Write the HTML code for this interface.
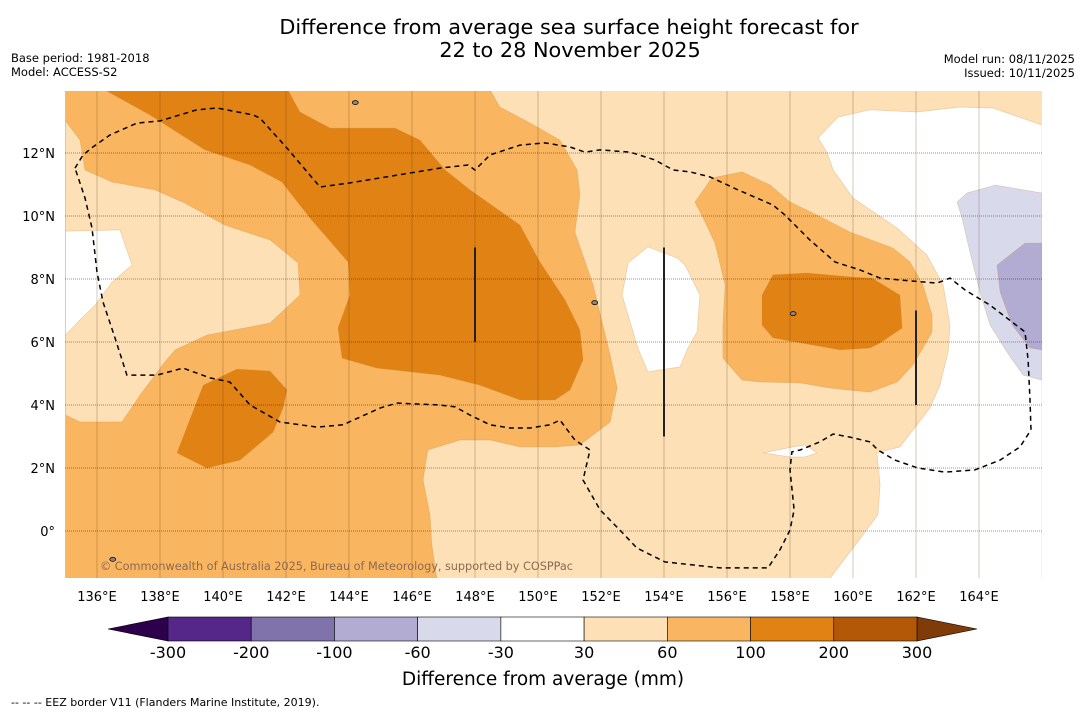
<!DOCTYPE html>
<html><head><meta charset="utf-8"><style>
html,body{margin:0;padding:0;background:#fff;}
body{width:1085px;height:713px;overflow:hidden;font-family:"DejaVu Sans","Liberation Sans",sans-serif;}
svg text{font-family:"DejaVu Sans","Liberation Sans",sans-serif;}
</style></head><body>
<svg id="c" width="1085" height="713" viewBox="0 0 1085 713">
<text x="569" y="34" font-size="20.8" text-anchor="middle" fill="#000">Difference from average sea surface height forecast for</text>
<text x="570" y="57" font-size="20.8" text-anchor="middle" fill="#000">22 to 28 November 2025</text>
<text x="11" y="62" font-size="11.5">Base period: 1981-2018</text>
<text x="11" y="76" font-size="11.5">Model: ACCESS-S2</text>
<text x="1075" y="63" font-size="11.5" text-anchor="end">Model run: 08/11/2025</text>
<text x="1075" y="77" font-size="11.5" text-anchor="end">Issued: 10/11/2025</text>
<defs><clipPath id="mapclip"><rect x="65" y="91" width="977" height="487"/></clipPath></defs>
<g id="map" clip-path="url(#mapclip)"></g>
<g id="axes"></g>
<g id="cbar"></g>
<text x="543" y="685" font-size="18.5" text-anchor="middle">Difference from average (mm)</text>
<text x="11" y="706" font-size="11">--  --  -- EEZ border V11 (Flanders Marine Institute, 2019).</text>
</svg>
<script>
const lonTicks=[136,138,140,142,144,146,148,150,152,154,156,158,160,162,164];
const latTicks=[0,2,4,6,8,10,12];
const cbarLevels=["-300","-200","-100","-60","-30","30","60","100","200","300"];
const cbarColors=["#542788","#8073ac","#b2abd2","#d8daeb","#ffffff","#fee0b6","#fab560","#e08214","#b35806"];
const orangeMain=[[135,14],[148.48,14],[148.79,13.46],[149.75,12.95],[150.7,12.41],[151.24,11.46],[151.33,10.67],[151.17,9.49],[151.75,7.81],[152.29,5.59],[152.51,4.54],[152.29,3.46],[151.75,3.05],[151.33,2.73],[150.54,2.67],[149.43,2.67],[148.48,2.89],[147.52,2.89],[146.5,2.57],[146.35,1.62],[146.57,0.51],[146.63,-0.44],[146.79,-1.5],[135,-1.5]];
const peachLeft=[[135,13.02],[135.46,12.41],[135.62,11.46],[136.48,11.08],[137.84,10.83],[138.79,10.41],[140.06,9.71],[141.49,9.24],[142.38,8.51],[142.44,7.49],[141.49,6.6],[139.49,6.22],[138.48,5.75],[138.16,5.37],[137.37,4.32],[136.79,3.46],[135.46,3.46],[135,3.68]];
const whiteLeft=[[135,9.52],[136.73,9.56],[137.11,8.44],[136.48,7.9],[135.94,7.17],[135.46,6.7],[135,6.22]];
const darkTop=[[136.25,14],[142.06,14],[142.44,13.3],[143.4,12.79],[145.46,12.79],[146.25,12.41],[147.05,11.46],[147.84,10.83],[149.43,9.71],[150.06,8.54],[150.86,7.33],[151.33,6.38],[151.43,5.43],[151.02,4.48],[150.54,4.16],[149.43,4.16],[148.16,4.63],[146.89,4.95],[144.89,5.17],[143.78,5.49],[143.65,6.44],[144.03,7.49],[143.97,8.54],[142.76,9.94],[141.87,11.08],[140.86,11.62],[139.43,12.1],[137.68,13.21]];
const darkSmall=[[138.54,2.48],[139.37,4.63],[140.44,5.14],[141.49,5.08],[142.03,4.48],[141.9,3.9],[141.59,3.14],[140.54,2.25],[139.49,2]];
const whiteCenter=[[153.49,9.02],[154.41,8.67],[154.67,8.44],[155.14,7.49],[155.05,6.32],[154.76,5.81],[154.51,5.21],[153.49,5.05],[153.17,5.81],[152.67,7.49],[152.86,8.51]];
const whiteRight=[[158.89,12.48],[159.52,13.14],[160.54,13.37],[162.03,13.3],[163.4,13.46],[164.44,13.43],[166,12.89],[166,-1.5],[159.27,-1.5],[160,-0.54],[160.79,0.51],[160.86,1.46],[160.76,2.48],[161.49,2.67],[162.44,3.9],[162.76,4.63],[163.02,5.68],[163.08,6.54],[162.86,7.81],[162.35,8.76],[161.4,9.62],[160,10.57],[159.37,11.46],[159.17,12.03]];
const whiteSmall=[[157.14,2.48],[158.1,2.67],[158.48,2.73],[158.86,2.48],[158.48,2.35],[158,2.35]];
const purpleLight=[[163.3,10.44],[163.62,10.73],[164.51,10.98],[166,10.73],[166,4.79],[165.4,4.95],[164.89,5.68],[164.35,6.54],[164.03,7.59],[163.71,8.86],[163.46,9.94]];
const purpleMid=[[164.57,8.44],[165.46,9.14],[166,9.14],[166,5.75],[165.62,5.81],[165.05,6.54],[164.67,7.59]];
const orangeRight=[[154.98,10.44],[155.52,11.21],[156.48,11.4],[157.37,10.98],[158,10.44],[158.86,10.03],[159.9,9.49],[161.27,8.98],[161.81,8.54],[162.22,7.81],[162.51,6.86],[162.51,6.32],[162.22,5.81],[161.9,5.27],[161.4,4.73],[160.54,4.41],[159.27,4.54],[158.32,4.7],[157.05,4.73],[156.48,4.79],[155.87,5.49],[155.87,6.54],[155.94,7.81],[155.62,9.14],[155.24,9.94]];
const darkRight=[[157.46,8.13],[158.54,8.19],[160,8.06],[160.6,8.03],[161.49,7.49],[161.56,6.44],[160.86,5.97],[160.54,5.81],[159.59,5.75],[157.46,6.13],[157.11,6.54],[157.11,7.49]];
const eez=[[135.3,11.52],[135.56,11.94],[135.87,12.19],[136.41,12.57],[137.27,12.95],[138,13.02],[139.17,13.37],[139.81,13.43],[140.95,13.21],[141.17,13.11],[142.03,12.16],[143.08,10.92],[144.03,11.05],[146.89,11.52],[147.78,11.62],[148,11.46],[148.48,11.94],[149.43,12.25],[150.22,12.32],[151.02,12.19],[151.49,12.03],[151.97,12.1],[152.92,12.03],[153.71,11.78],[154.29,11.46],[154.83,11.4],[155.46,11.24],[156.35,10.83],[157.46,10.35],[157.84,10.03],[158.63,9.24],[159.43,8.54],[160.22,8.29],[160.86,8.03],[161.81,7.94],[162.67,7.87],[163.08,8.03],[163.56,7.65],[164.35,7.17],[165.46,6.32],[165.56,5.43],[165.62,4.16],[165.65,3.21],[165.3,2.67],[164.67,2.25],[163.87,1.94],[162.92,1.87],[162.06,2],[161.33,2.25],[160.79,2.57],[160.54,2.83],[159.9,2.98],[159.37,3.08],[158.95,2.83],[158.32,2.57],[158.06,2.51],[158,1.94],[158.13,0.67],[158,0.03],[157.68,-0.6],[157.3,-1.17],[155.78,-1.17],[154.03,-0.98],[153.14,-0.54],[152.6,0.03],[151.97,0.67],[151.43,1.62],[151.65,2.57],[151.17,2.89],[150.7,3.52],[150.38,3.37],[149.75,3.27],[149.11,3.27],[148.48,3.37],[147.84,3.68],[147.37,3.94],[146.89,4],[145.52,4.06],[144.98,3.9],[143.81,3.37],[142.98,3.3],[141.81,3.46],[140.86,4],[140.22,4.73],[139.59,4.86],[138.73,5.17],[137.9,4.95],[136.95,4.95],[136.57,6.13],[136.19,7.27],[136,8.22],[135.84,9.62],[135.62,10.57],[135.3,11.52]];
const meridianLines=[[148,9.0,6.0],[154,9.0,3.0],[162,7.0,4.0]];
const islands=[[136.5,-0.9],[144.2,13.6],[158.1,6.9],[151.8,7.25]];

const NS="http://www.w3.org/2000/svg";
const X=lon=>65.5+(lon-135)*31.5;
const Y=lat=>531-lat*31.5;
const map=document.getElementById('map'), axes=document.getElementById('axes'), cb=document.getElementById('cbar');
function mk(tag,attrs,parent){const e=document.createElementNS(NS,tag);for(const k in attrs)e.setAttribute(k,attrs[k]);parent.appendChild(e);return e;}
function pts(a){return a.map(p=>X(p[0]).toFixed(1)+","+Y(p[1]).toFixed(1)).join(" ");}

let bg=mk('rect',{x:65,y:91,width:977,height:487,fill:'#fee0b6'},map);


const layers=[
 [orangeMain,'#fab560','contour-60-100-main'],
 [peachLeft,'#fee0b6','contour-30-60-west'],
 [whiteLeft,'#ffffff','contour-neutral-west'],
 [darkTop,'#e08214','contour-100-200-central'],
 [darkSmall,'#e08214','contour-100-200-southwest'],
 [whiteCenter,'#ffffff','contour-neutral-central'],
 [whiteRight,'#ffffff','contour-neutral-east'],
 [whiteSmall,'#ffffff','contour-neutral-small'],
 [purpleLight,'#d8daeb','contour-minus60-minus30'],
 [purpleMid,'#b2abd2','contour-minus100-minus60'],
 [orangeRight,'#fab560','contour-60-100-east'],
 [darkRight,'#e08214','contour-100-200-east']
];
layers.forEach(l=>{
 const p=mk('polygon',{points:pts(l[0]),fill:l[1],stroke:'rgba(200,140,60,0.35)','stroke-width':0.7},map);
 
 
});
islands.forEach(d=>{
 const c=mk('ellipse',{cx:X(d[0]),cy:Y(d[1]),rx:3,ry:2,fill:'#888',stroke:'#000','stroke-width':0.7},map);
 
 
});
lonTicks.forEach(l=>{
 const g=mk('line',{x1:X(l),x2:X(l),y1:91,y2:578,stroke:'rgba(90,60,30,0.28)','stroke-width':1},map);
 
 
});
latTicks.forEach(l=>{
 const g=mk('line',{x1:65,x2:1042,y1:Y(l),y2:Y(l),stroke:'rgba(0,0,0,0.4)','stroke-width':1,'stroke-dasharray':'1,1'},map);
 
 
});
meridianLines.forEach(m=>{
 const v=mk('line',{x1:X(m[0]),x2:X(m[0]),y1:Y(m[1]),y2:Y(m[2]),stroke:'#222','stroke-width':2},map);
 
 
});
const e=mk('polyline',{points:pts(eez),fill:'none',stroke:'#000','stroke-width':1.5,'stroke-dasharray':'5,4'},map);


const cr=mk('text',{x:100,y:570,'font-size':11.3,fill:'#8a6a55'},map);


cr.textContent='© Commonwealth of Australia 2025, Bureau of Meteorology, supported by COSPPac';
cr.setAttribute('textLength','473');

lonTicks.forEach(l=>{
 const t=mk('text',{x:X(l),y:601,'font-size':13,'text-anchor':'middle'},axes);
 
 
 t.textContent=l+'°E';
});
latTicks.forEach(l=>{
 const t=mk('text',{x:55,y:Y(l)+5,'font-size':13,'text-anchor':'end'},axes);
 
 
 t.textContent=l===0?'0°':l+'°N';
});

const cx0=168,cw=(917-168)/cbarColors.length,cy0=617,ch=24;
const lt=mk('polygon',{points:`108,629 ${cx0},${cy0} ${cx0},${cy0+ch}`,fill:'#2d004b',stroke:'#000','stroke-width':0.6},cb);


const rt=mk('polygon',{points:`977,629 917,${cy0} 917,${cy0+ch}`,fill:'#7f3b08',stroke:'#000','stroke-width':0.6},cb);


cbarColors.forEach((c,i)=>{
 const r=mk('rect',{x:cx0+i*cw,y:cy0,width:cw,height:ch,fill:c,stroke:'#000','stroke-width':0.6},cb);
 
 
});
cbarLevels.forEach((s,i)=>{
 const t=mk('text',{x:cx0+i*cw,y:658,'font-size':16,'text-anchor':'middle'},cb);
 
 
 t.textContent=s;
});
</script>
</body></html>
